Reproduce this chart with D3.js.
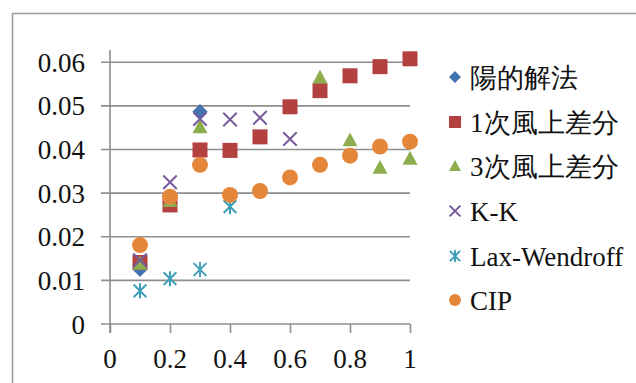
<!DOCTYPE html>
<html><head><meta charset="utf-8">
<script src="https://cdn.jsdelivr.net/npm/d3@7"></script>
</head>
<body style="margin:0">
<svg id="chart" width="636" height="383"></svg>
<script>
// ---- data ----
const seriesNames = ["陽的解法", "1次風上差分", "3次風上差分", "K-K", "Lax-Wendroff", "CIP"];
const xExplicit = [0.1, 0.2, 0.3];
const yExplicit = [0.0125, 0.0280, 0.0487];
const xUpwind1 = [0.1, 0.2, 0.3, 0.4, 0.5, 0.6, 0.7, 0.8, 0.9, 1.0];
const yUpwind1 = [0.0141, 0.0273, 0.0399, 0.0398, 0.0429, 0.0498, 0.0535, 0.0569, 0.0590, 0.0608];
const xUpwind3 = [0.1, 0.2, 0.3, 0.7, 0.8, 0.9, 1.0];
const yUpwind3 = [0.0139, 0.0283, 0.0452, 0.0566, 0.0422, 0.0359, 0.0380];
const xKK = [0.1, 0.2, 0.3, 0.4, 0.5, 0.6];
const yKK = [0.0146, 0.0325, 0.0470, 0.0469, 0.0473, 0.0424];
const xLW = [0.1, 0.2, 0.3, 0.4];
const yLW = [0.0076, 0.0104, 0.0125, 0.0269];
const xCIP = [0.1, 0.2, 0.3, 0.4, 0.5, 0.6, 0.7, 0.8, 0.9, 1.0];
const yCIP = [0.0181, 0.0292, 0.0365, 0.0296, 0.0305, 0.0336, 0.0365, 0.0386, 0.0407, 0.0418];
const xTicks = [0, 0.2, 0.4, 0.6, 0.8, 1];
const xTickLabels = ["0", "0.2", "0.4", "0.6", "0.8", "1"];
const yTicks = [0, 0.01, 0.02, 0.03, 0.04, 0.05, 0.06];
const yTickLabels = ["0", "0.01", "0.02", "0.03", "0.04", "0.05", "0.06"];

const seriesX = [xExplicit, xUpwind1, xUpwind3, xKK, xLW, xCIP];
const seriesY = [yExplicit, yUpwind1, yUpwind3, yKK, yLW, yCIP];

// ---- styles ----
const colors = ["#4272b0", "#b2413f", "#8eae4e", "#775a9c", "#3e9fb8", "#e5873a"];
const shapes = ["diamond", "square", "triangle", "x", "star", "circle"];
const gridColor = "#8e8e8e";
const fontSize = 27;

const svg = d3.select("#chart");

function serifText(sel) {
  return sel.attr("font-family", "Liberation Serif").style("font-family", '"Liberation Serif"')
    .attr("font-size", fontSize).attr("fill", "#111");
}

// outer frame
svg.append("rect").attr("x", 12.5).attr("y", 13.5).attr("width", 700).attr("height", 500)
  .attr("fill", "none").attr("stroke", "#9a9a9a").attr("stroke-width", 1.5);

const x = d3.scaleLinear().domain([0, 1]).range([110, 410]);
const y = d3.scaleLinear().domain([0, 0.06]).range([324, 62.3]);
const plotTop = 50;

// gridlines
svg.append("g").selectAll("line").data(yTicks.filter(d => d > 0)).join("line")
  .attr("x1", 101).attr("x2", x(1)).attr("y1", d => y(d)).attr("y2", d => y(d))
  .attr("stroke", gridColor).attr("stroke-width", 1.6);

// x axis ticks
const xAxis = d3.axisBottom(x).tickValues(xTicks).tickSize(9).tickFormat("");
const gx = svg.append("g").attr("transform", `translate(0,${y(0)})`).call(xAxis);
gx.select(".domain").remove();
gx.selectAll(".tick line").attr("stroke", gridColor).attr("stroke-width", 1.6);
gx.selectAll(".tick text").remove();
svg.append("line").attr("x1", 101).attr("x2", x(1)).attr("y1", y(0)).attr("y2", y(0))
  .attr("stroke", gridColor).attr("stroke-width", 1.6);
xTicks.forEach((v, i) => {
  serifText(svg.append("text").attr("x", x(v)).attr("y", y(0) + 44).attr("text-anchor", "middle"))
    .text(xTickLabels[i]);
});

// y axis labels
yTicks.forEach((v, i) => {
  serifText(svg.append("text").attr("x", x(0) - 25).attr("y", y(v) + 9.5).attr("text-anchor", "end"))
    .text(yTickLabels[i]);
});
svg.append("line").attr("x1", x(0)).attr("x2", x(0)).attr("y1", plotTop).attr("y2", y(0) + 9)
  .attr("stroke", gridColor).attr("stroke-width", 1.6);

// marker drawing
function drawMarker(g, shape, color, s) {
  const h = s / 2;
  if (shape === "diamond") {
    g.append("path").attr("d", `M0,${-h}L${h},0L0,${h}L${-h},0Z`).attr("fill", color);
  } else if (shape === "square") {
    g.append("rect").attr("x", -h).attr("y", -h).attr("width", s).attr("height", s).attr("fill", color);
  } else if (shape === "triangle") {
    g.append("path").attr("d", `M0,${-h}L${h},${h * 0.85}L${-h},${h * 0.85}Z`).attr("fill", color);
  } else if (shape === "x") {
    const a = h * 0.9;
    g.append("path").attr("d", `M${-a},${-a}L${a},${a}M${-a},${a}L${a},${-a}`)
      .attr("stroke", color).attr("stroke-width", 2).attr("fill", "none");
  } else if (shape === "star") {
    const a = h * 0.85;
    g.append("path").attr("d", `M${-a},${-a}L${a},${a}M${-a},${a}L${a},${-a}M0,${-h}L0,${h}`)
      .attr("stroke", color).attr("stroke-width", 2).attr("fill", "none");
  } else if (shape === "circle") {
    g.append("circle").attr("r", h).attr("fill", color);
  }
}
const markerSize = [15, 15, 15, 15, 15, 16];

seriesNames.forEach((name, si) => {
  const g = svg.append("g");
  seriesX[si].forEach((xv, i) => {
    const m = g.append("g").attr("transform", `translate(${x(xv)},${y(seriesY[si][i])})`);
    drawMarker(m, shapes[si], colors[si], markerSize[si]);
  });
});

// legend
const legendY = [77, 122, 166, 211, 256, 300];
seriesNames.forEach((name, i) => {
  const m = svg.append("g").attr("transform", `translate(455,${legendY[i]})`);
  drawMarker(m, shapes[i], colors[i], 12);
  serifText(svg.append("text").attr("x", 470).attr("y", legendY[i] + 9.5)).text(name);
});
</script>
</body></html>
